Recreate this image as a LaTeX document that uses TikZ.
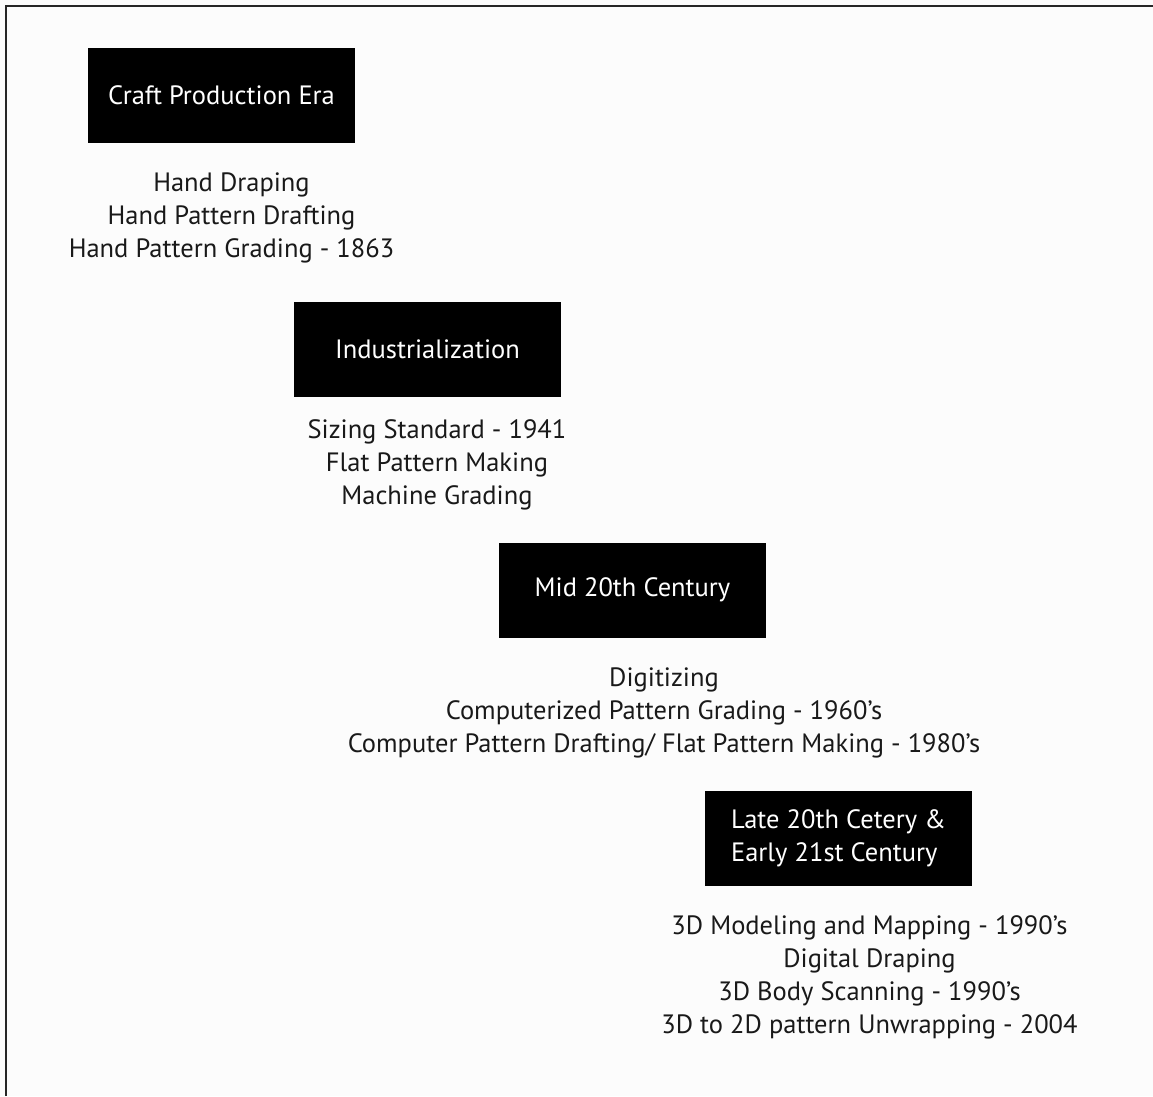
\documentclass[tikz,border=0pt]{standalone}
\usepackage{fontspec}
\setmainfont{PT Sans}
\begin{document}
\begin{tikzpicture}[x=1pt,y=-1pt,
  era/.style={fill=black,text=white,minimum width=267pt,minimum height=95pt,inner sep=0pt,font=\fontsize{26.5}{33}\selectfont},
  items/.style={text=black!90,align=center,inner sep=0pt,font=\fontsize{26.5}{33}\selectfont}]
\useasboundingbox (0,0) rectangle (1153,1096);
\fill[white!99!black] (0,0) rectangle (1153,1096);
\draw[line width=2.5pt,black!85] (6,1096) -- (6,6) -- (1153,6);
\node[era] (e1) at (221.5,95) {Craft Production Era};
\node[items] (t1) at (231.5,218) {Hand Draping\\Hand Pattern Drafting\\Hand Pattern Grading - 1863};
\node[era] (e2) at (427.5,349.5) {Industrialization};
\node[items] (t2) at (437,465) {Sizing Standard - 1941\\Flat Pattern Making\\Machine Grading};
\node[era] (e3) at (632.5,590) {Mid 20th Century};
\node[items] (t3) at (664,713) {Digitizing\\Computerized Pattern Grading - 1960’s\\Computer Pattern Drafting/ Flat Pattern Making - 1980’s};
\node[era,align=left] (e4) at (838.5,838) {Late 20th Cetery \&\\Early 21st Century};
\node[items] (t4) at (869.5,977) {3D Modeling and Mapping - 1990’s\\Digital Draping\\3D Body Scanning - 1990’s\\3D to 2D pattern Unwrapping - 2004};
\end{tikzpicture}
\end{document}
